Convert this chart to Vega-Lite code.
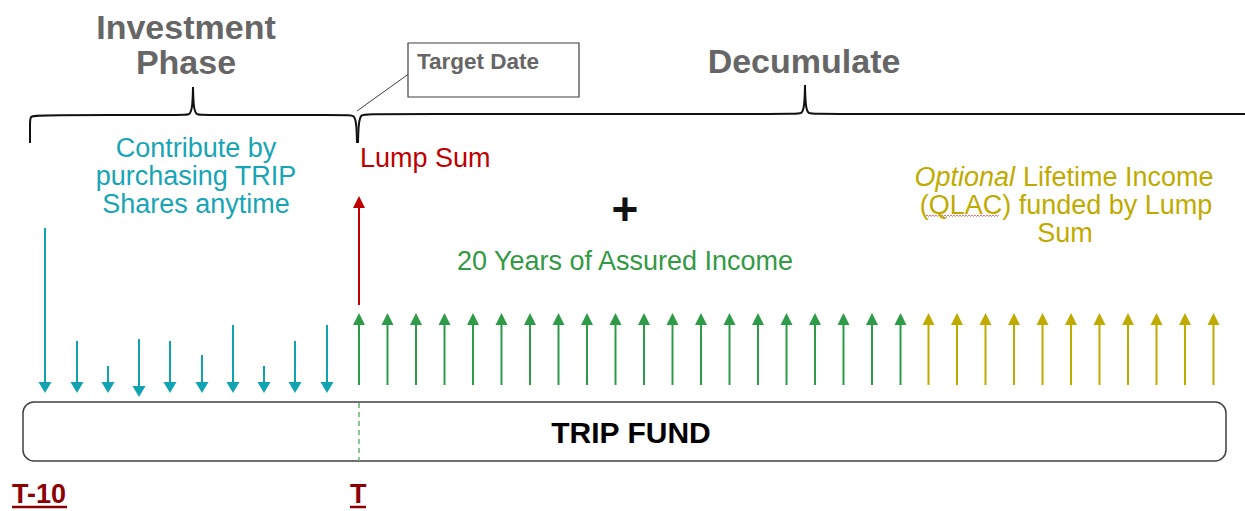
{
  "$schema": "https://vega.github.io/schema/vega-lite/v6.json",
  "width": 1245,
  "height": 511,
  "padding": 0,
  "autosize": {"type": "none"},
  "background": "white",
  "config": {"view": {"stroke": null}, "font": "Liberation Sans"},
  "datasets": {
    "braces": [
      {"seg": "a", "i": 0, "x": 30, "y": 143}, {"seg": "a", "i": 1, "x": 30, "y": 123}, {"seg": "a", "i": 2, "x": 30, "y": 116}, {"seg": "a", "i": 3, "x": 37, "y": 115}, {"seg": "a", "i": 4, "x": 184, "y": 115}, {"seg": "a", "i": 5, "x": 190, "y": 115}, {"seg": "a", "i": 6, "x": 192.5, "y": 107}, {"seg": "a", "i": 7, "x": 193, "y": 87},
      {"seg": "b", "i": 0, "x": 193, "y": 87}, {"seg": "b", "i": 1, "x": 193.5, "y": 107}, {"seg": "b", "i": 2, "x": 196, "y": 115}, {"seg": "b", "i": 3, "x": 202, "y": 115}, {"seg": "b", "i": 4, "x": 348, "y": 115}, {"seg": "b", "i": 5, "x": 354, "y": 115}, {"seg": "b", "i": 6, "x": 356.5, "y": 123}, {"seg": "b", "i": 7, "x": 357, "y": 143},
      {"seg": "c", "i": 0, "x": 358, "y": 143}, {"seg": "c", "i": 1, "x": 358.5, "y": 123}, {"seg": "c", "i": 2, "x": 361, "y": 114}, {"seg": "c", "i": 3, "x": 367, "y": 114}, {"seg": "c", "i": 4, "x": 796, "y": 114}, {"seg": "c", "i": 5, "x": 802, "y": 114}, {"seg": "c", "i": 6, "x": 804.5, "y": 106}, {"seg": "c", "i": 7, "x": 805, "y": 85},
      {"seg": "d", "i": 0, "x": 805, "y": 85}, {"seg": "d", "i": 1, "x": 805.5, "y": 106}, {"seg": "d", "i": 2, "x": 808, "y": 114}, {"seg": "d", "i": 3, "x": 814, "y": 114}, {"seg": "d", "i": 4, "x": 1245, "y": 114}
    ],
    "callout": [{"x": 357, "y": 111, "x2": 410, "y2": 73}],
    "targetbox": [{"x": 408, "x2": 579, "y": 43, "y2": 97}],
    "fundbox": [{"x": 23, "x2": 1226, "y": 402, "y2": 461}],
    "tline": [{"x": 359, "y": 403, "y2": 461}],
    "squiggle": [
      {"i": 0, "x": 924, "y": 215}, {"i": 1, "x": 925.5, "y": 216.5}, {"i": 2, "x": 927, "y": 215}, {"i": 3, "x": 928.5, "y": 216.5}, {"i": 4, "x": 930, "y": 215}, {"i": 5, "x": 931.5, "y": 216.5}, {"i": 6, "x": 933, "y": 215}, {"i": 7, "x": 934.5, "y": 216.5}, {"i": 8, "x": 936, "y": 215}, {"i": 9, "x": 937.5, "y": 216.5}, {"i": 10, "x": 939, "y": 215}, {"i": 11, "x": 940.5, "y": 216.5}, {"i": 12, "x": 942, "y": 215}, {"i": 13, "x": 943.5, "y": 216.5}, {"i": 14, "x": 945, "y": 215}, {"i": 15, "x": 946.5, "y": 216.5}, {"i": 16, "x": 948, "y": 215}, {"i": 17, "x": 949.5, "y": 216.5}, {"i": 18, "x": 951, "y": 215}, {"i": 19, "x": 952.5, "y": 216.5}, {"i": 20, "x": 954, "y": 215}, {"i": 21, "x": 955.5, "y": 216.5}, {"i": 22, "x": 957, "y": 215}, {"i": 23, "x": 958.5, "y": 216.5}, {"i": 24, "x": 960, "y": 215}, {"i": 25, "x": 961.5, "y": 216.5}, {"i": 26, "x": 963, "y": 215}, {"i": 27, "x": 964.5, "y": 216.5}, {"i": 28, "x": 966, "y": 215}, {"i": 29, "x": 967.5, "y": 216.5}, {"i": 30, "x": 969, "y": 215}, {"i": 31, "x": 970.5, "y": 216.5}, {"i": 32, "x": 972, "y": 215}, {"i": 33, "x": 973.5, "y": 216.5}, {"i": 34, "x": 975, "y": 215}, {"i": 35, "x": 976.5, "y": 216.5}, {"i": 36, "x": 978, "y": 215}, {"i": 37, "x": 979.5, "y": 216.5}, {"i": 38, "x": 981, "y": 215}, {"i": 39, "x": 982.5, "y": 216.5}, {"i": 40, "x": 984, "y": 215}, {"i": 41, "x": 985.5, "y": 216.5}, {"i": 42, "x": 987, "y": 215}, {"i": 43, "x": 988.5, "y": 216.5}, {"i": 44, "x": 990, "y": 215}, {"i": 45, "x": 991.5, "y": 216.5}, {"i": 46, "x": 993, "y": 215}, {"i": 47, "x": 994.5, "y": 216.5}, {"i": 48, "x": 996, "y": 215}, {"i": 49, "x": 997.5, "y": 216.5}, {"i": 50, "x": 999, "y": 215}
    ],
    "down": [
      {"group": "contribute", "x": 45, "tail": 228, "tip": 393},
      {"group": "contribute", "x": 77, "tail": 341, "tip": 393},
      {"group": "contribute", "x": 108, "tail": 366, "tip": 393},
      {"group": "contribute", "x": 139, "tail": 339, "tip": 397},
      {"group": "contribute", "x": 170, "tail": 341, "tip": 393},
      {"group": "contribute", "x": 202, "tail": 355, "tip": 393},
      {"group": "contribute", "x": 233, "tail": 325, "tip": 393},
      {"group": "contribute", "x": 264, "tail": 366, "tip": 393},
      {"group": "contribute", "x": 295, "tail": 341, "tip": 393},
      {"group": "contribute", "x": 327, "tail": 325, "tip": 393}
    ],
    "up": [
      {"group": "lump", "x": 359, "tail": 305, "tip": 196},
      {"group": "income", "x": 359, "tail": 385, "tip": 313},
      {"group": "income", "x": 387.5, "tail": 385, "tip": 313},
      {"group": "income", "x": 416, "tail": 385, "tip": 313},
      {"group": "income", "x": 444.5, "tail": 385, "tip": 313},
      {"group": "income", "x": 473, "tail": 385, "tip": 313},
      {"group": "income", "x": 501.5, "tail": 385, "tip": 313},
      {"group": "income", "x": 530, "tail": 385, "tip": 313},
      {"group": "income", "x": 558.5, "tail": 385, "tip": 313},
      {"group": "income", "x": 587, "tail": 385, "tip": 313},
      {"group": "income", "x": 615.5, "tail": 385, "tip": 313},
      {"group": "income", "x": 644, "tail": 385, "tip": 313},
      {"group": "income", "x": 672.5, "tail": 385, "tip": 313},
      {"group": "income", "x": 701, "tail": 385, "tip": 313},
      {"group": "income", "x": 729.5, "tail": 385, "tip": 313},
      {"group": "income", "x": 758, "tail": 385, "tip": 313},
      {"group": "income", "x": 786.5, "tail": 385, "tip": 313},
      {"group": "income", "x": 815, "tail": 385, "tip": 313},
      {"group": "income", "x": 843.5, "tail": 385, "tip": 313},
      {"group": "income", "x": 872, "tail": 385, "tip": 313},
      {"group": "income", "x": 900.5, "tail": 385, "tip": 313},
      {"group": "qlac", "x": 928.5, "tail": 385, "tip": 313},
      {"group": "qlac", "x": 957, "tail": 385, "tip": 313},
      {"group": "qlac", "x": 985.5, "tail": 385, "tip": 313},
      {"group": "qlac", "x": 1014, "tail": 385, "tip": 313},
      {"group": "qlac", "x": 1042.5, "tail": 385, "tip": 313},
      {"group": "qlac", "x": 1071, "tail": 385, "tip": 313},
      {"group": "qlac", "x": 1099.5, "tail": 385, "tip": 313},
      {"group": "qlac", "x": 1128, "tail": 385, "tip": 313},
      {"group": "qlac", "x": 1156.5, "tail": 385, "tip": 313},
      {"group": "qlac", "x": 1185, "tail": 385, "tip": 313},
      {"group": "qlac", "x": 1213.5, "tail": 385, "tip": 313}
    ],
    "headings": [
      {"t": "Investment", "x": 186, "y": 39},
      {"t": "Phase", "x": 186, "y": 74},
      {"t": "Decumulate", "x": 804, "y": 73}
    ],
    "target": [{"t": "Target Date", "x": 417, "y": 69}],
    "contrib": [
      {"t": "Contribute by", "x": 196, "y": 157},
      {"t": "purchasing TRIP", "x": 196, "y": 185},
      {"t": "Shares anytime", "x": 196, "y": 213}
    ],
    "lump": [{"t": "Lump Sum", "x": 360, "y": 167}],
    "plus": [{"t": "+", "x": 625, "y": 225}],
    "income": [{"t": "20 Years of Assured Income", "x": 625, "y": 270}],
    "optional": [{"t": "Optional", "x": 1015, "y": 186}],
    "qlac": [
      {"t": "Lifetime Income", "x": 1023, "y": 186, "align": "left"},
      {"t": "(QLAC) funded by Lump", "x": 1066, "y": 214, "align": "center"},
      {"t": "Sum", "x": 1065, "y": 242, "align": "center"}
    ],
    "fund": [{"t": "TRIP FUND", "x": 631, "y": 443}],
    "tlabels": [
      {"t": "T-10", "x": 12, "y": 503, "u1": 12, "u2": 67},
      {"t": "T", "x": 350, "y": 503, "u1": 350, "u2": 366}
    ]
  },
  "layer": [
    {
      "data": {"name": "braces"},
      "mark": {"type": "line", "interpolate": "basis", "strokeWidth": 2, "color": "#111111"},
      "encoding": {
        "x": {"field": "x", "type": "quantitative", "scale": {"domain": [0, 1245], "nice": false, "zero": false}, "axis": null},
        "y": {"field": "y", "type": "quantitative", "scale": {"domain": [0, 511], "nice": false, "zero": false, "reverse": true}, "axis": null},
        "detail": {"field": "seg"},
        "order": {"field": "i", "type": "quantitative"}
      }
    },
    {
      "data": {"name": "callout"},
      "mark": {"type": "rule", "strokeWidth": 1, "color": "#404040"},
      "encoding": {
        "x": {"field": "x", "type": "quantitative", "scale": {"domain": [0, 1245], "nice": false, "zero": false}, "axis": null},
        "y": {"field": "y", "type": "quantitative", "scale": {"domain": [0, 511], "nice": false, "zero": false, "reverse": true}, "axis": null},
        "x2": {"field": "x2"},
        "y2": {"field": "y2"}
      }
    },
    {
      "data": {"name": "targetbox"},
      "mark": {"type": "rect", "fill": "white", "stroke": "#404040", "strokeWidth": 1.2},
      "encoding": {
        "x": {"field": "x", "type": "quantitative", "scale": {"domain": [0, 1245], "nice": false, "zero": false}, "axis": null},
        "y": {"field": "y", "type": "quantitative", "scale": {"domain": [0, 511], "nice": false, "zero": false, "reverse": true}, "axis": null},
        "x2": {"field": "x2"},
        "y2": {"field": "y2"}
      }
    },
    {
      "data": {"name": "fundbox"},
      "mark": {"type": "rect", "fill": "white", "stroke": "#404040", "strokeWidth": 1.5, "cornerRadius": 11},
      "encoding": {
        "x": {"field": "x", "type": "quantitative", "scale": {"domain": [0, 1245], "nice": false, "zero": false}, "axis": null},
        "y": {"field": "y", "type": "quantitative", "scale": {"domain": [0, 511], "nice": false, "zero": false, "reverse": true}, "axis": null},
        "x2": {"field": "x2"},
        "y2": {"field": "y2"}
      }
    },
    {
      "data": {"name": "tline"},
      "mark": {"type": "rule", "strokeWidth": 1.5, "color": "#5DB36B", "strokeDash": [5, 4]},
      "encoding": {
        "x": {"field": "x", "type": "quantitative", "scale": {"domain": [0, 1245], "nice": false, "zero": false}, "axis": null},
        "y": {"field": "y", "type": "quantitative", "scale": {"domain": [0, 511], "nice": false, "zero": false, "reverse": true}, "axis": null},
        "y2": {"field": "y2"}
      }
    },
    {
      "data": {"name": "squiggle"},
      "mark": {"type": "line", "strokeWidth": 0.8, "color": "#E8504A"},
      "encoding": {
        "x": {"field": "x", "type": "quantitative", "scale": {"domain": [0, 1245], "nice": false, "zero": false}, "axis": null},
        "y": {"field": "y", "type": "quantitative", "scale": {"domain": [0, 511], "nice": false, "zero": false, "reverse": true}, "axis": null},
        "order": {"field": "i", "type": "quantitative"}
      }
    },
    {
      "data": {"name": "down"},
      "mark": {"type": "rule", "strokeWidth": 2, "y2Offset": -6},
      "encoding": {
        "x": {"field": "x", "type": "quantitative", "scale": {"domain": [0, 1245], "nice": false, "zero": false}, "axis": null},
        "y": {"field": "tail", "type": "quantitative", "scale": {"domain": [0, 511], "nice": false, "zero": false, "reverse": true}, "axis": null},
        "y2": {"field": "tip"},
        "color": {"field": "group", "type": "nominal", "scale": {"domain": ["contribute", "lump", "income", "qlac"], "range": ["#12A3B3", "#C00000", "#2E9B48", "#BFAB00"]}, "legend": null}
      }
    },
    {
      "data": {"name": "down"},
      "mark": {"type": "point", "shape": "M0,0.85L1,-0.85L-1,-0.85Z", "filled": true, "size": 169, "opacity": 1, "yOffset": -5.5},
      "encoding": {
        "x": {"field": "x", "type": "quantitative", "scale": {"domain": [0, 1245], "nice": false, "zero": false}, "axis": null},
        "y": {"field": "tip", "type": "quantitative", "scale": {"domain": [0, 511], "nice": false, "zero": false, "reverse": true}, "axis": null},
        "color": {"field": "group", "type": "nominal", "scale": {"domain": ["contribute", "lump", "income", "qlac"], "range": ["#12A3B3", "#C00000", "#2E9B48", "#BFAB00"]}, "legend": null}
      }
    },
    {
      "data": {"name": "up"},
      "mark": {"type": "rule", "strokeWidth": 2, "y2Offset": 7},
      "encoding": {
        "x": {"field": "x", "type": "quantitative", "scale": {"domain": [0, 1245], "nice": false, "zero": false}, "axis": null},
        "y": {"field": "tail", "type": "quantitative", "scale": {"domain": [0, 511], "nice": false, "zero": false, "reverse": true}, "axis": null},
        "y2": {"field": "tip"},
        "color": {"field": "group", "type": "nominal", "scale": {"domain": ["contribute", "lump", "income", "qlac"], "range": ["#12A3B3", "#C00000", "#2E9B48", "#BFAB00"]}, "legend": null}
      }
    },
    {
      "data": {"name": "up"},
      "mark": {"type": "point", "shape": "M0,-1L1,1L-1,1Z", "filled": true, "size": 144, "opacity": 1, "yOffset": 6},
      "encoding": {
        "x": {"field": "x", "type": "quantitative", "scale": {"domain": [0, 1245], "nice": false, "zero": false}, "axis": null},
        "y": {"field": "tip", "type": "quantitative", "scale": {"domain": [0, 511], "nice": false, "zero": false, "reverse": true}, "axis": null},
        "color": {"field": "group", "type": "nominal", "scale": {"domain": ["contribute", "lump", "income", "qlac"], "range": ["#12A3B3", "#C00000", "#2E9B48", "#BFAB00"]}, "legend": null}
      }
    },
    {
      "data": {"name": "headings"},
      "mark": {"type": "text", "align": "center", "baseline": "alphabetic", "fontSize": 34, "fontWeight": "bold", "color": "#666666"},
      "encoding": {
        "x": {"field": "x", "type": "quantitative", "scale": {"domain": [0, 1245], "nice": false, "zero": false}, "axis": null},
        "y": {"field": "y", "type": "quantitative", "scale": {"domain": [0, 511], "nice": false, "zero": false, "reverse": true}, "axis": null},
        "text": {"field": "t"}
      }
    },
    {
      "data": {"name": "target"},
      "mark": {"type": "text", "align": "left", "baseline": "alphabetic", "fontSize": 22.5, "fontWeight": "bold", "color": "#666666"},
      "encoding": {
        "x": {"field": "x", "type": "quantitative", "scale": {"domain": [0, 1245], "nice": false, "zero": false}, "axis": null},
        "y": {"field": "y", "type": "quantitative", "scale": {"domain": [0, 511], "nice": false, "zero": false, "reverse": true}, "axis": null},
        "text": {"field": "t"}
      }
    },
    {
      "data": {"name": "contrib"},
      "mark": {"type": "text", "align": "center", "baseline": "alphabetic", "fontSize": 27, "color": "#17A5B6"},
      "encoding": {
        "x": {"field": "x", "type": "quantitative", "scale": {"domain": [0, 1245], "nice": false, "zero": false}, "axis": null},
        "y": {"field": "y", "type": "quantitative", "scale": {"domain": [0, 511], "nice": false, "zero": false, "reverse": true}, "axis": null},
        "text": {"field": "t"}
      }
    },
    {
      "data": {"name": "lump"},
      "mark": {"type": "text", "align": "left", "baseline": "alphabetic", "fontSize": 27, "color": "#C00000"},
      "encoding": {
        "x": {"field": "x", "type": "quantitative", "scale": {"domain": [0, 1245], "nice": false, "zero": false}, "axis": null},
        "y": {"field": "y", "type": "quantitative", "scale": {"domain": [0, 511], "nice": false, "zero": false, "reverse": true}, "axis": null},
        "text": {"field": "t"}
      }
    },
    {
      "data": {"name": "plus"},
      "mark": {"type": "text", "align": "center", "baseline": "alphabetic", "fontSize": 46, "fontWeight": "bold", "color": "#111111"},
      "encoding": {
        "x": {"field": "x", "type": "quantitative", "scale": {"domain": [0, 1245], "nice": false, "zero": false}, "axis": null},
        "y": {"field": "y", "type": "quantitative", "scale": {"domain": [0, 511], "nice": false, "zero": false, "reverse": true}, "axis": null},
        "text": {"field": "t"}
      }
    },
    {
      "data": {"name": "income"},
      "mark": {"type": "text", "align": "center", "baseline": "alphabetic", "fontSize": 27, "color": "#339944"},
      "encoding": {
        "x": {"field": "x", "type": "quantitative", "scale": {"domain": [0, 1245], "nice": false, "zero": false}, "axis": null},
        "y": {"field": "y", "type": "quantitative", "scale": {"domain": [0, 511], "nice": false, "zero": false, "reverse": true}, "axis": null},
        "text": {"field": "t"}
      }
    },
    {
      "data": {"name": "optional"},
      "mark": {"type": "text", "align": "right", "baseline": "alphabetic", "fontSize": 27, "fontStyle": "italic", "color": "#BFAB00"},
      "encoding": {
        "x": {"field": "x", "type": "quantitative", "scale": {"domain": [0, 1245], "nice": false, "zero": false}, "axis": null},
        "y": {"field": "y", "type": "quantitative", "scale": {"domain": [0, 511], "nice": false, "zero": false, "reverse": true}, "axis": null},
        "text": {"field": "t"}
      }
    },
    {
      "data": {"name": "qlac"},
      "transform": [{"filter": "datum.align === 'left'"}],
      "mark": {"type": "text", "align": "left", "baseline": "alphabetic", "fontSize": 27, "color": "#BFAB00"},
      "encoding": {
        "x": {"field": "x", "type": "quantitative", "scale": {"domain": [0, 1245], "nice": false, "zero": false}, "axis": null},
        "y": {"field": "y", "type": "quantitative", "scale": {"domain": [0, 511], "nice": false, "zero": false, "reverse": true}, "axis": null},
        "text": {"field": "t"}
      }
    },
    {
      "data": {"name": "qlac"},
      "transform": [{"filter": "datum.align === 'center'"}],
      "mark": {"type": "text", "align": "center", "baseline": "alphabetic", "fontSize": 27, "color": "#BFAB00"},
      "encoding": {
        "x": {"field": "x", "type": "quantitative", "scale": {"domain": [0, 1245], "nice": false, "zero": false}, "axis": null},
        "y": {"field": "y", "type": "quantitative", "scale": {"domain": [0, 511], "nice": false, "zero": false, "reverse": true}, "axis": null},
        "text": {"field": "t"}
      }
    },
    {
      "data": {"name": "fund"},
      "mark": {"type": "text", "align": "center", "baseline": "alphabetic", "fontSize": 30, "fontWeight": "bold", "color": "#000000"},
      "encoding": {
        "x": {"field": "x", "type": "quantitative", "scale": {"domain": [0, 1245], "nice": false, "zero": false}, "axis": null},
        "y": {"field": "y", "type": "quantitative", "scale": {"domain": [0, 511], "nice": false, "zero": false, "reverse": true}, "axis": null},
        "text": {"field": "t"}
      }
    },
    {
      "data": {"name": "tlabels"},
      "mark": {"type": "text", "align": "left", "baseline": "alphabetic", "fontSize": 27, "fontWeight": "bold", "color": "#8B0000"},
      "encoding": {
        "x": {"field": "x", "type": "quantitative", "scale": {"domain": [0, 1245], "nice": false, "zero": false}, "axis": null},
        "y": {"field": "y", "type": "quantitative", "scale": {"domain": [0, 511], "nice": false, "zero": false, "reverse": true}, "axis": null},
        "text": {"field": "t"}
      }
    },
    {
      "data": {"name": "tlabels"},
      "mark": {"type": "rule", "strokeWidth": 2.5, "color": "#8B0000", "yOffset": 4},
      "encoding": {
        "x": {"field": "u1", "type": "quantitative", "scale": {"domain": [0, 1245], "nice": false, "zero": false}, "axis": null},
        "x2": {"field": "u2"},
        "y": {"field": "y", "type": "quantitative", "scale": {"domain": [0, 511], "nice": false, "zero": false, "reverse": true}, "axis": null}
      }
    }
  ]
}
